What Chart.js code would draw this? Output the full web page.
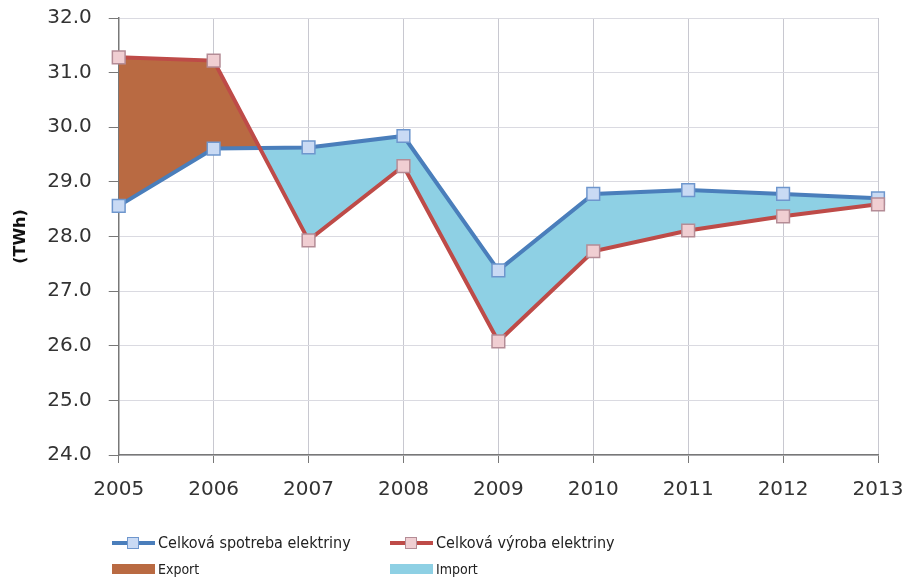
<!DOCTYPE html>
<html>
<head>
<meta charset="utf-8">
<script src="https://cdn.jsdelivr.net/npm/chart.js@4.4.1/dist/chart.umd.min.js"></script>
<style>
  html, body { margin: 0; padding: 0; background: #fff; }
  #wrap { position: relative; width: 903px; height: 584px; }
  #legend { position: absolute; left: 0; top: 0; width: 903px; height: 584px; pointer-events: none;
            font-family: "DejaVu Sans Condensed", "DejaVu Sans", sans-serif; color: #222; }
  .item { position: absolute; display: flex; align-items: center; }
  .swatch { position: relative; width: 43px; height: 12px; margin-right: 3px; }
  .swatch .ln { position: absolute; left: 0; right: 0; top: 4px; height: 4px; }
  .swatch .sq { position: absolute; left: 15px; top: 0; width: 10px; height: 10px; border: 1px solid; }
  .patch { width: 43px; height: 10px; margin-right: 3px; }
  .big { font-size: 16px; }
  .small { font-size: 14px; }
</style>
</head>
<body>
<div id="wrap">
  <canvas id="chart" width="903" height="584"></canvas>
  <div id="legend"></div>
</div>
<script>
const years = ['2005', '2006', '2007', '2008', '2009', '2010', '2011', '2012', '2013'];
// TWh
const spotreba = [28.56, 29.61, 29.63, 29.84, 27.38, 28.78, 28.85, 28.78, 28.70];
const vyroba   = [31.28, 31.22, 27.93, 29.29, 26.08, 27.73, 28.11, 28.37, 28.59];

const labelSpotreba = 'Celková spotreba elektriny';
const labelVyroba = 'Celková výroba elektriny';
const labelExport = 'Export';
const labelImport = 'Import';

const blueLine = 'rgb(74, 126, 187)';
const blueMark = 'rgb(201, 218, 244)';
const redLine = 'rgb(190, 75, 72)';
const redMark = 'rgb(240, 206, 210)';
const exportFill = 'rgb(185, 106, 66)';
const importFill = 'rgb(142, 208, 228)';

const data = {
    labels: years,
    datasets: [{
        label: labelSpotreba,
        data: spotreba,
        borderColor: blueLine,
        borderWidth: 4,
        pointStyle: 'rect',
        pointRadius: 9,
        pointBackgroundColor: blueMark,
        pointBorderColor: 'rgb(110, 150, 205)',
        pointBorderWidth: 1.5,
        tension: 0,
        fill: false,
        order: 1
    }, {
        label: labelVyroba,
        data: vyroba,
        borderColor: redLine,
        borderWidth: 4,
        pointStyle: 'rect',
        pointRadius: 9,
        pointBackgroundColor: redMark,
        pointBorderColor: 'rgb(180, 140, 150)',
        pointBorderWidth: 1.5,
        tension: 0,
        // production above consumption = export, below = import
        fill: {
            target: 0,
            above: exportFill,
            below: importFill
        },
        order: 0
    }]
};

const config = {
    type: 'line',
    data: data,
    options: {
        responsive: false,
        animation: false,
        layout: {
            padding: { left: 11, right: 25, top: 18, bottom: 67 }
        },
        scales: {
            x: {
                offset: false,
                grid: {
                    color: 'rgb(200, 200, 208)',
                    tickColor: 'rgb(120, 120, 120)',
                    tickLength: 8
                },
                border: { color: 'rgb(120, 120, 120)', width: 1.5 },
                ticks: {
                    color: '#333',
                    padding: 15,
                    maxRotation: 0,
                    font: { family: 'DejaVu Sans', size: 20 }
                },
                // keep the edge labels from pushing the plot inwards
                afterFit: (scale) => {
                    scale.paddingLeft = 0;
                    scale.paddingRight = 0;
                }
            },
            y: {
                min: 24,
                max: 32,
                grid: {
                    color: 'rgb(218, 218, 225)',
                    tickColor: 'rgb(120, 120, 120)',
                    tickLength: 10
                },
                border: { color: 'rgb(120, 120, 120)', width: 1.5 },
                ticks: {
                    stepSize: 1,
                    color: '#333',
                    padding: 17,
                    font: { family: 'DejaVu Sans', size: 20 },
                    callback: (v) => v.toFixed(1)
                },
                title: {
                    display: true,
                    text: '(TWh)',
                    color: '#111',
                    padding: 0,
                    font: { family: 'DejaVu Sans', size: 16, weight: 'bold' }
                },
                afterFit: (scale) => {
                    scale.paddingTop = 0;
                    scale.paddingBottom = 0;
                }
            }
        },
        plugins: {
            legend: { display: false },
            tooltip: { enabled: false },
            filler: { drawTime: 'beforeDatasetsDraw' }
        }
    }
};

const chart = new Chart(document.getElementById('chart'), config);

// legend in two columns, lines on top, fills below
function lineItem(text, x, y, line, mark, markBorder) {
    const d = document.createElement('div');
    d.className = 'item big';
    d.style.left = x + 'px';
    d.style.top = y + 'px';
    d.innerHTML = '<div class="swatch"><div class="ln" style="background:' + line + '"></div>' +
        '<div class="sq" style="background:' + mark + ';border-color:' + markBorder + '"></div></div>' +
        '<span>' + text + '</span>';
    return d;
}
function patchItem(text, x, y, fill) {
    const d = document.createElement('div');
    d.className = 'item small';
    d.style.left = x + 'px';
    d.style.top = y + 'px';
    d.innerHTML = '<div class="patch" style="background:' + fill + '"></div><span>' + text + '</span>';
    return d;
}
const legend = document.getElementById('legend');
legend.appendChild(lineItem(labelSpotreba, 112, 533, blueLine, blueMark, 'rgb(110, 150, 205)'));
legend.appendChild(lineItem(labelVyroba, 390, 533, redLine, redMark, 'rgb(180, 140, 150)'));
legend.appendChild(patchItem(labelExport, 112, 561, exportFill));
legend.appendChild(patchItem(labelImport, 390, 561, importFill));
</script>
</body>
</html>
